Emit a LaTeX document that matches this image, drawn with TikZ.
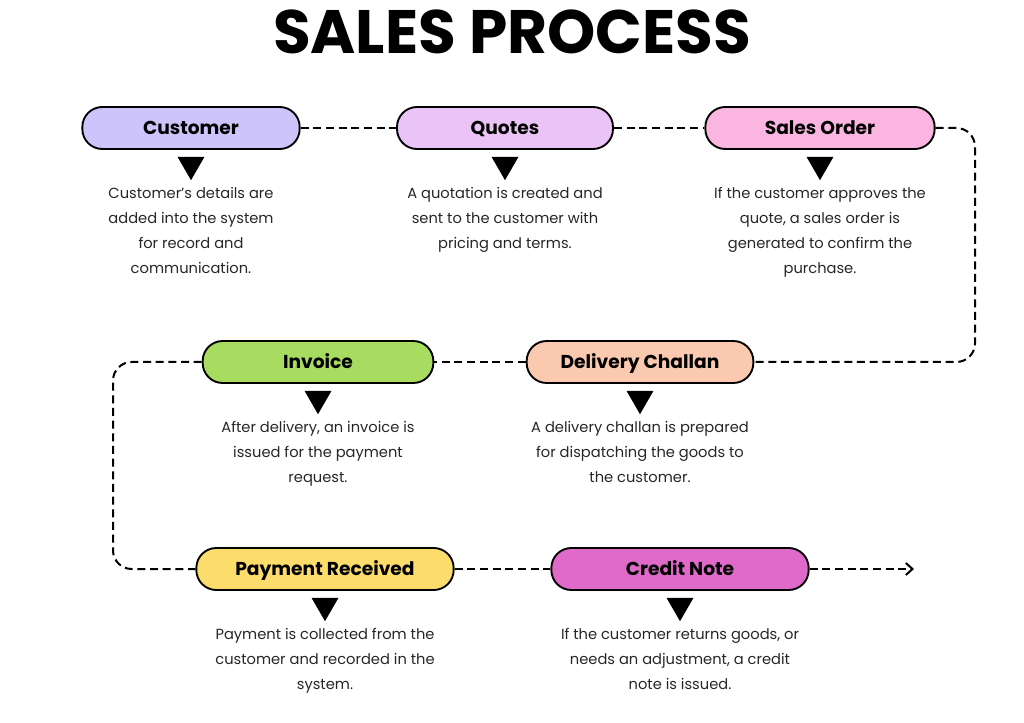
\documentclass[tikz,border=0pt]{standalone}
\usepackage{fontspec}
\setmainfont{Poppins}
\usepackage{xcolor}
\definecolor{step-customer}{HTML}{CCC4FA}
\definecolor{step-quotes}{HTML}{EAC4F6}
\definecolor{step-order}{HTML}{FAB6E0}
\definecolor{step-invoice}{HTML}{A7DC60}
\definecolor{step-challan}{HTML}{FBC9AF}
\definecolor{step-payment}{HTML}{FCDD6C}
\definecolor{step-credit}{HTML}{DF6AC9}
\usetikzlibrary{
  shapes.geometric,
  arrows.meta,
  positioning
}

\begin{document}
\begin{tikzpicture}[
    x=0.75pt, y=-0.75pt,
    pill/.style={
      rectangle,
      draw=black,
      line width=1.4pt,
      rounded corners=15pt,
      minimum height=31.5pt,
      text height=10pt,
      text depth=0.5pt,
      font=\fontsize{14}{16}\selectfont\bfseries,
      text=black
    },
    pointer/.style={
      isosceles triangle,
      isosceles triangle apex angle=60,
      shape border rotate=270,
      fill=black,
      inner sep=0pt,
      minimum height=17.5pt
    },
    note/.style={
      font=\fontsize{11}{18.75}\selectfont,
      text=black!85,
      align=center,
      inner sep=0pt
    },
    link/.style={
      line width=1.5pt,
      dash pattern=on 6pt off 3.5pt,
      rounded corners=14pt
    }
  ]
    \useasboundingbox (0,0) rectangle (1024,723);

    % Title
    \node[font=\fontsize{46}{52}\selectfont\bfseries] (title) at (512,32) {SALES PROCESS};

    % First row
    \node[pill, fill=step-customer, minimum width=163pt] (customer) at (191,128) {Customer};
    \node[pill, fill=step-quotes, minimum width=162pt]   (quotes)   at (505,128) {Quotes};
    \node[pill, fill=step-order, minimum width=172pt]    (order)    at (820,128) {Sales Order};

    % Second row
    \node[pill, fill=step-invoice, minimum width=173pt]  (invoice)  at (318,362) {Invoice};
    \node[pill, fill=step-challan, minimum width=170pt]  (challan)  at (640,362) {Delivery Challan};

    % Third row
    \node[pill, fill=step-payment, minimum width=193pt]  (payment)  at (325,569) {Payment Received};
    \node[pill, fill=step-credit, minimum width=193pt]   (credit)   at (680,569) {Credit Note};

    % Pointers and descriptions
    \node[pointer, below=5pt of customer] (customer-tip) {};
    \node[note, below=5pt of customer-tip] (customer-text) {Customer’s details are\\added into the system\\for record and\\communication.};
    \node[pointer, below=5pt of quotes] (quotes-tip) {};
    \node[note, below=5pt of quotes-tip] (quotes-text) {A quotation is created and\\sent to the customer with\\pricing and terms.};
    \node[pointer, below=5pt of order] (order-tip) {};
    \node[note, below=5pt of order-tip] (order-text) {If the customer approves the\\quote, a sales order is\\generated to confirm the\\purchase.};
    \node[pointer, below=5pt of invoice] (invoice-tip) {};
    \node[note, below=5pt of invoice-tip] (invoice-text) {After delivery, an invoice is\\issued for the payment\\request.};
    \node[pointer, below=5pt of challan] (challan-tip) {};
    \node[note, below=5pt of challan-tip] (challan-text) {A delivery challan is prepared\\for dispatching the goods to\\the customer.};
    \node[pointer, below=5pt of payment] (payment-tip) {};
    \node[note, below=5pt of payment-tip] (payment-text) {Payment is collected from the\\customer and recorded in the\\system.};
    \node[pointer, below=5pt of credit] (credit-tip) {};
    \node[note, below=5pt of credit-tip] (credit-text) {If the customer returns goods, or\\needs an adjustment, a credit\\note is issued.};

    % Turning points of the dashed flow
    \coordinate (turn-right) at (975,362);
    \coordinate (turn-left)  at (113,569);
    \coordinate (flow-end)   at (914,569);

    % Dashed flow between the steps
    \draw[link] (customer) -- (quotes);
    \draw[link] (quotes) -- (order);
    \draw[link] (order.east) -| (turn-right) -- (challan.east);
    \draw[link] (challan) -- (invoice);
    \draw[link] (invoice.west) -| (turn-left) -- (payment.west);
    \draw[link] (payment) -- (credit);
    \draw[link, -{Straight Barb[length=5pt, width=9pt]}] (credit.east) -- (flow-end);
  \end{tikzpicture}
\end{document}
